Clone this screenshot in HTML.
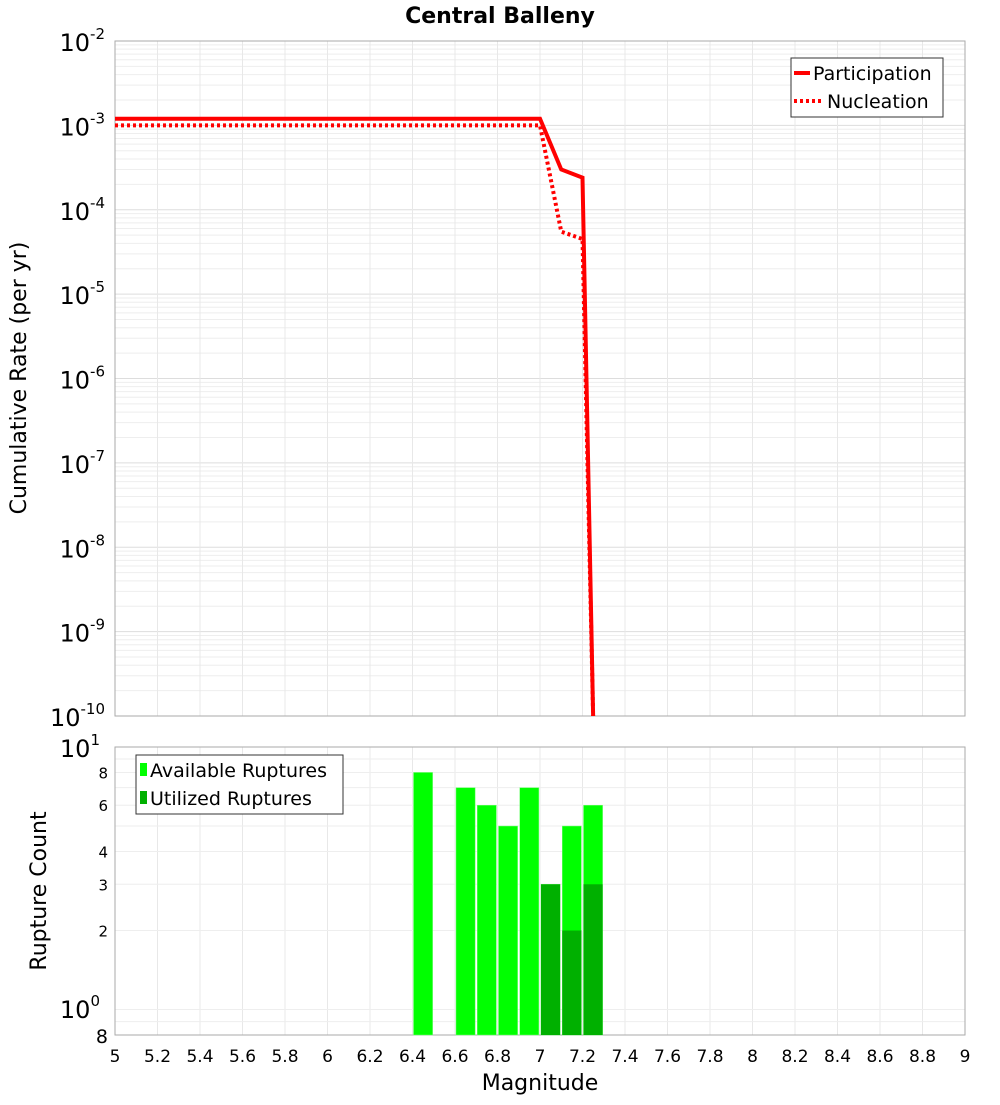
<!DOCTYPE html>
<html><head><meta charset="utf-8"><style>
body{margin:0;background:#fff;font-family:"Liberation Sans","DejaVu Sans",sans-serif}
svg text{font-family:"DejaVu Sans","Liberation Sans",sans-serif}
</style></head><body>
<svg id="c" width="1000" height="1100" xmlns="http://www.w3.org/2000/svg"></svg>
<script>
const partMags=[5.0,7.0,7.1,7.2,7.25];
const partRates=[1.2e-3,1.2e-3,3.0e-4,2.4e-4,1e-10];
const nuclMags=[5.0,7.0,7.1,7.2,7.25];
const nuclRates=[1.0e-3,1.0e-3,5.5e-5,4.5e-5,1e-10];
const barMags=[6.4,6.6,6.7,6.8,6.9,7.0,7.1,7.2];
const availCounts=[8,7,6,5,7,3,5,6];
const usedCounts=[0,0,0,0,0,3,2,3];
const xTicks=[5,5.2,5.4,5.6,5.8,6,6.2,6.4,6.6,6.8,7,7.2,7.4,7.6,7.8,8,8.2,8.4,8.6,8.8,9];
const yTopExps=[-10,-9,-8,-7,-6,-5,-4,-3,-2];
const yBotTicks=[2,3,4,6,8];

const S=document.getElementById('c'),NS='http://www.w3.org/2000/svg';
function mk(t,a,txt){const e=document.createElementNS(NS,t);for(const k in a)e.setAttribute(k,a[k]);if(txt!==undefined)e.textContent=txt;S.appendChild(e);return e;}
const L=115,R=965,T1=41,B1=716,T2=747,B2=1035;
const X=m=>L+(m-5)/4*(R-L);
const Y1=v=>B1-(Math.log10(v)+10)/8*(B1-T1);
const Y2=v=>B2-(Math.log10(v)-Math.log10(0.8))/(1-Math.log10(0.8))*(B2-T2);

// grids top
for(let e=-10;e<-2;e++)for(let k=1;k<10;k++){const y=Y1(k*Math.pow(10,e));
 let g=mk('line',{x1:L,x2:R,y1:y,y2:y,stroke:k==1?'#ddd':'#eee','stroke-width':1});
 }
xTicks.forEach(t=>{let g=mk('line',{x1:X(t),x2:X(t),y1:T1,y2:B1,stroke:'#e8e8e8'});
 let g2=mk('line',{x1:X(t),x2:X(t),y1:T2,y2:B2,stroke:'#e8e8e8'});});
// bottom y grid
[1,2,3,4,5,6,7,8,9].forEach(v=>{let g=mk('line',{x1:L,x2:R,y1:Y2(v),y2:Y2(v),stroke:'#eee'});});
[0.8,0.9].forEach(v=>{let g=mk('line',{x1:L,x2:R,y1:Y2(v),y2:Y2(v),stroke:'#eee'});});

// frames
let f1=mk('rect',{x:L,y:T1,width:R-L,height:B1-T1,fill:'none',stroke:'#aaa'});
let f2=mk('rect',{x:L,y:T2,width:R-L,height:B2-T2,fill:'none',stroke:'#aaa'});

// bars
const bw=(X(0.09)-X(0));
barMags.forEach((m,i)=>{
 let b=mk('rect',{x:X(m)+1,y:Y2(availCounts[i]),width:bw,height:B2-Y2(availCounts[i]),fill:'#00ff00',stroke:'#7f7',"stroke-width":0.5});
 
 if(usedCounts[i]>0){let u=mk('rect',{x:X(m)+1,y:Y2(usedCounts[i]),width:bw,height:B2-Y2(usedCounts[i]),fill:'#00b000'});
 }
});

// lines
function pts(ms,rs){return ms.map((m,i)=>X(m)+','+Math.min(Y1(rs[i]),B1)).join(' ');}
let pl=mk('polyline',{points:pts(partMags,partRates),fill:'none',stroke:'#f00','stroke-width':4});

let nl=mk('polyline',{points:pts(nuclMags,nuclRates),fill:'none',stroke:'#f00','stroke-width':4,'stroke-dasharray':'3,3'});


// axes text
xTicks.forEach(t=>{let tx=mk('text',{x:X(t),y:1062,'text-anchor':'middle','font-size':17},String(t));});
yTopExps.forEach(e=>{let tx=mk('text',{x:105,y:Y1(Math.pow(10,e))+10,'text-anchor':'end','font-size':24});
 
 tx.innerHTML='10<tspan dy="-12" font-size="15">'+e+'</tspan>';});
yBotTicks.forEach(v=>{let tx=mk('text',{x:108,y:Y2(v)+6,'text-anchor':'end','font-size':15},String(v));});
let a=mk('text',{x:100,y:757,'text-anchor':'end','font-size':24});a.innerHTML='10<tspan dy="-12" font-size="15">1</tspan>';
let b0=mk('text',{x:100,y:1018,'text-anchor':'end','font-size':24});b0.innerHTML='10<tspan dy="-12" font-size="15">0</tspan>';
let b8=mk('text',{x:108,y:1043,'text-anchor':'end','font-size':19},'8');

let ti=mk('text',{x:500,y:23,'text-anchor':'middle','font-size':22,'font-weight':'bold'},'Central Balleny');
let xt=mk('text',{x:540,y:1090,'text-anchor':'middle','font-size':22},'Magnitude');
let yt=mk('text',{x:0,y:0,'text-anchor':'middle','font-size':22,transform:'translate(26,378) rotate(-90)'},'Cumulative Rate (per yr)');
let yt2=mk('text',{x:0,y:0,'text-anchor':'middle','font-size':22,transform:'translate(46,891) rotate(-90)'},'Rupture Count');

// legends
let lg=mk('rect',{x:791,y:58,width:152,height:59,fill:'#fff',stroke:'#333'});
let l1=mk('line',{x1:794,x2:810,y1:73,y2:73,stroke:'#f00','stroke-width':4});
let t1=mk('text',{x:813,y:80,'font-size':19},'Participation');
let l2=mk('line',{x1:794,x2:822,y1:101,y2:101,stroke:'#f00','stroke-width':4,'stroke-dasharray':'3,3'});
let t2=mk('text',{x:827,y:108,'font-size':19},'Nucleation');
let lg2=mk('rect',{x:136,y:755,width:207,height:59,fill:'#fff',stroke:'#333'});
let s1=mk('rect',{x:140,y:763,width:7,height:13,fill:'#00ff00'});
let u1=mk('text',{x:150,y:777,'font-size':19},'Available Ruptures');
let s2=mk('rect',{x:140,y:791,width:7,height:13,fill:'#00b000'});
let u2=mk('text',{x:150,y:805,'font-size':19},'Utilized Ruptures');
</script>
</body></html>
